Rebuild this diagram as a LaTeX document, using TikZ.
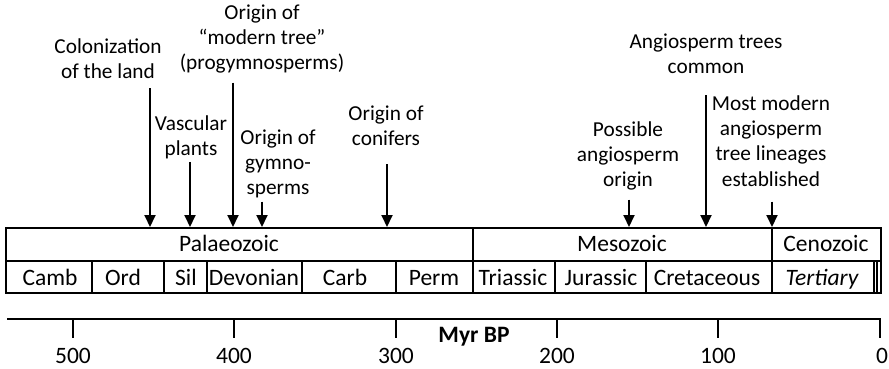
\documentclass[tikz,border=0pt]{standalone}
\usepackage{fontspec}
\setmainfont{Carlito}
\usepackage{tikz}
\usetikzlibrary{arrows.meta}

\begin{document}
\begin{tikzpicture}[
    x=1pt, y=-1pt,
    note/.style={align=center, inner sep=3pt, font=\fontsize{21.3}{25.3}\selectfont},
    cell/.style={inner sep=0pt, text height=15pt, text depth=5pt, font=\fontsize{23.5}{28}\selectfont},
    boxline/.style={line width=1.7pt},
    arrow/.style={-{Triangle[length=12pt, width=11pt]}, line width=1.9pt},
]
    \useasboundingbox (0,0) rectangle (889,368);

    % annotations
    \node[note] (colon) at (108,59) {Colonization\\ of the land};
    \node[note] (vasc) at (191,137) {Vascular\\ plants};
    \node[note] (modern) at (262,39) {Origin of\\ ``modern tree''\\ (progymnosperms)};
    \node[note] (gymno) at (278,164) {Origin of\\ gymno-\\ sperms};
    \node[note] (conif) at (386,126) {Origin of\\ conifers};
    \node[note] (possib) at (628,156) {Possible\\ angiosperm\\ origin};
    \node[note] (angtrees) at (706,54) {Angiosperm trees\\ common};
    \node[note] (mostmod) at (771,141) {Most modern\\ angiosperm\\ tree lineages\\ established};

    \coordinate (colonAt) at (150,227);
    \coordinate (vascAt) at (190,227);
    \coordinate (modernAt) at (233,227);
    \coordinate (gymnoAt) at (262,227);
    \coordinate (conifAt) at (387,227);
    \coordinate (possibAt) at (629,227);
    \coordinate (angtreesAt) at (706,227);
    \coordinate (mostmodAt) at (772,227);

    \draw[arrow, shorten <=6pt] (colon.south -| colonAt) -- (colonAt);
    \draw[arrow] (vasc.south -| vascAt) -- (vascAt);
    \draw[arrow, shorten <=6pt] (modern.south -| modernAt) -- (modernAt);
    \draw[arrow] (gymno.south -| gymnoAt) -- (gymnoAt);
    \draw[arrow, shorten <=15pt] (conif.south -| conifAt) -- (conifAt);
    \draw[arrow, shorten <=6pt] (possib.south -| possibAt) -- (possibAt);
    \draw[arrow, shorten <=18pt] (angtrees.south -| angtreesAt) -- (angtreesAt);
    \draw[arrow, shorten <=12pt] (mostmod.south -| mostmodAt) -- (mostmodAt);

    % eras and periods
    \draw[boxline] (6,228) rectangle (881,293);
    \draw[boxline] (6,261) -- (881,261);
    \draw[boxline] (473,228) -- (473,293);
    \draw[boxline] (772,228) -- (772,293);
    \foreach \x in {92,164,207,302,396,555,646,874,877}
        \draw[boxline] (\x,261) -- (\x,293);

    \node[cell] (palaeo) at (229,246) {Palaeozoic};
    \node[cell] (meso) at (622,246) {Mesozoic};
    \node[cell] (ceno) at (826,246) {Cenozoic};

    \node[cell] (camb) at (50,280) {Camb};
    \node[cell] (ord) at (123,280) {Ord};
    \node[cell] (sil) at (186,280) {Sil};
    \node[cell] (devon) at (254,280) {Devonian};
    \node[cell] (carb) at (345,280) {Carb};
    \node[cell] (perm) at (434,280) {Perm};
    \node[cell] (trias) at (513,280) {Triassic};
    \node[cell] (juras) at (601,280) {Jurassic};
    \node[cell] (creta) at (707,280) {Cretaceous};
    \node[cell] (tert) at (822,280) {\itshape Tertiary};

    % time axis
    \draw[boxline] (7,319) -- (880,319) -- (880,338);
    \foreach \x/\t in {73/500, 234/400, 396/300, 557/200, 718/100}{
        \draw[boxline] (\x,319) -- (\x,338);
        \node[cell] (tick\t) at (\x,358) {\t};
    }
    \node[cell] (tick0) at (882,358) {0};
    \node[cell, font=\fontsize{23.5}{28}\selectfont\bfseries] (myr) at (474,337) {Myr BP};
\end{tikzpicture}
\end{document}
